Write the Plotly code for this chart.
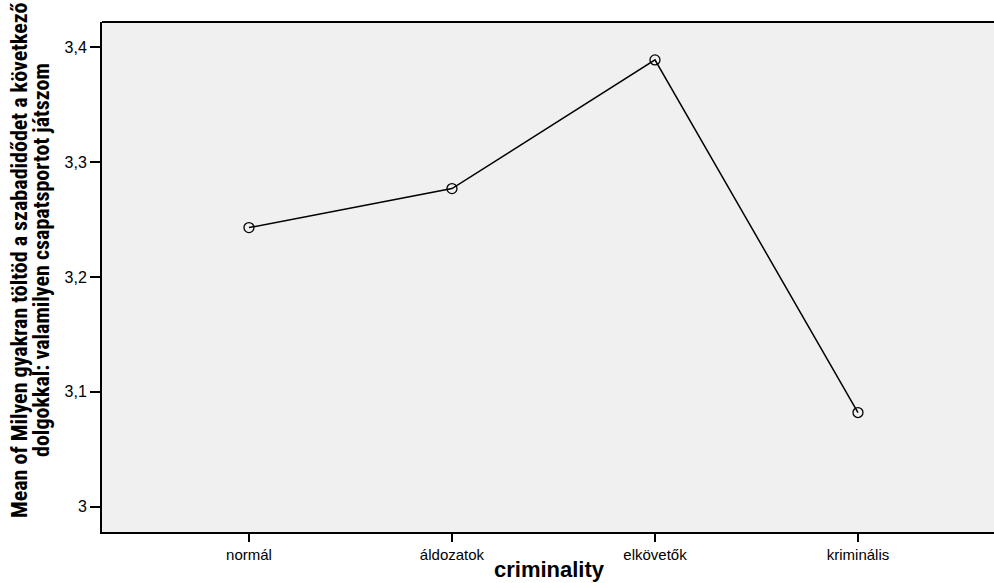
import plotly.graph_objects as go

categories = ["normál", "áldozatok", "elkövetők", "kriminális"]
means = [3.243, 3.277, 3.389, 3.082]
y_tick_vals = [3.0, 3.1, 3.2, 3.3, 3.4]
y_tick_text = ["3", "3,1", "3,2", "3,3", "3,4"]
x_title = "criminality"
y_title_lines = ["Mean of Milyen gyakran töltöd a szabadidődet a következő",
                 "dolgokkal: valamilyen csapatsportot játszom"]

fig = go.Figure()
fig.add_trace(go.Scatter(
    x=list(range(len(categories))), y=means,
    mode="lines+markers",
    line=dict(color="black", width=1.5),
    marker=dict(symbol="circle-open", size=10, color="black", line=dict(width=1.3)),
    showlegend=False, hoverinfo="skip",
))

W, H = 994, 583
L, R, T, B = 102, 0, 22, 51
PW, PH = W - L - R, H - T - B


def px_x(x):
    return (x - L) / PW


def px_y(y):
    return ((H - B) - y) / PH


annotations = [
    dict(text="<b>" + x_title + "</b>", xref="paper", yref="paper",
         x=px_x(549), y=px_y(569), xanchor="center", yanchor="middle", showarrow=False,
         font=dict(size=22, family="Arial, Liberation Sans, sans-serif", color="black")),
]
for xpos, line in zip([19, 41], y_title_lines):
    annotations.append(dict(
        text="<b>" + line + "</b>", xref="paper", yref="paper",
        x=px_x(xpos), y=px_y(260), xanchor="center", yanchor="middle",
        textangle=-90, showarrow=False,
        font=dict(size=22, family="Liberation Sans Narrow, Arial Narrow, Roboto Condensed, sans-serif",
                  color="black")))

fig.update_layout(
    width=W, height=H,
    margin=dict(l=L, r=R, t=T, b=B),
    paper_bgcolor="white",
    plot_bgcolor="#F0F0F0",
    font=dict(family="Arial, Liberation Sans, sans-serif", size=15, color="black"),
    xaxis=dict(
        range=[-0.724, 3.67],
        tickvals=list(range(len(categories))), ticktext=categories,
        ticks="outside", ticklen=8, tickwidth=2, tickcolor="black",
        showgrid=False, zeroline=False,
        showline=True, linecolor="black", linewidth=2, mirror=False,
        tickfont=dict(size=15, color="black"),
    ),
    yaxis=dict(
        range=[2.978, 3.422],
        tickvals=y_tick_vals, ticktext=y_tick_text,
        ticks="outside", ticklen=10, tickwidth=2, tickcolor="black",
        showgrid=False, zeroline=False,
        showline=True, linecolor="black", linewidth=2,
        tickfont=dict(size=16, color="black"),
    ),
    shapes=[dict(type="line", xref="paper", yref="paper", x0=0, x1=1, y0=1, y1=1,
                 line=dict(color="black", width=2))],
    annotations=annotations,
)

fig.write_html("out.html", config={"displayModeBar": False},
               post_script="document.body.style.margin='0';document.body.style.overflow='hidden';")
